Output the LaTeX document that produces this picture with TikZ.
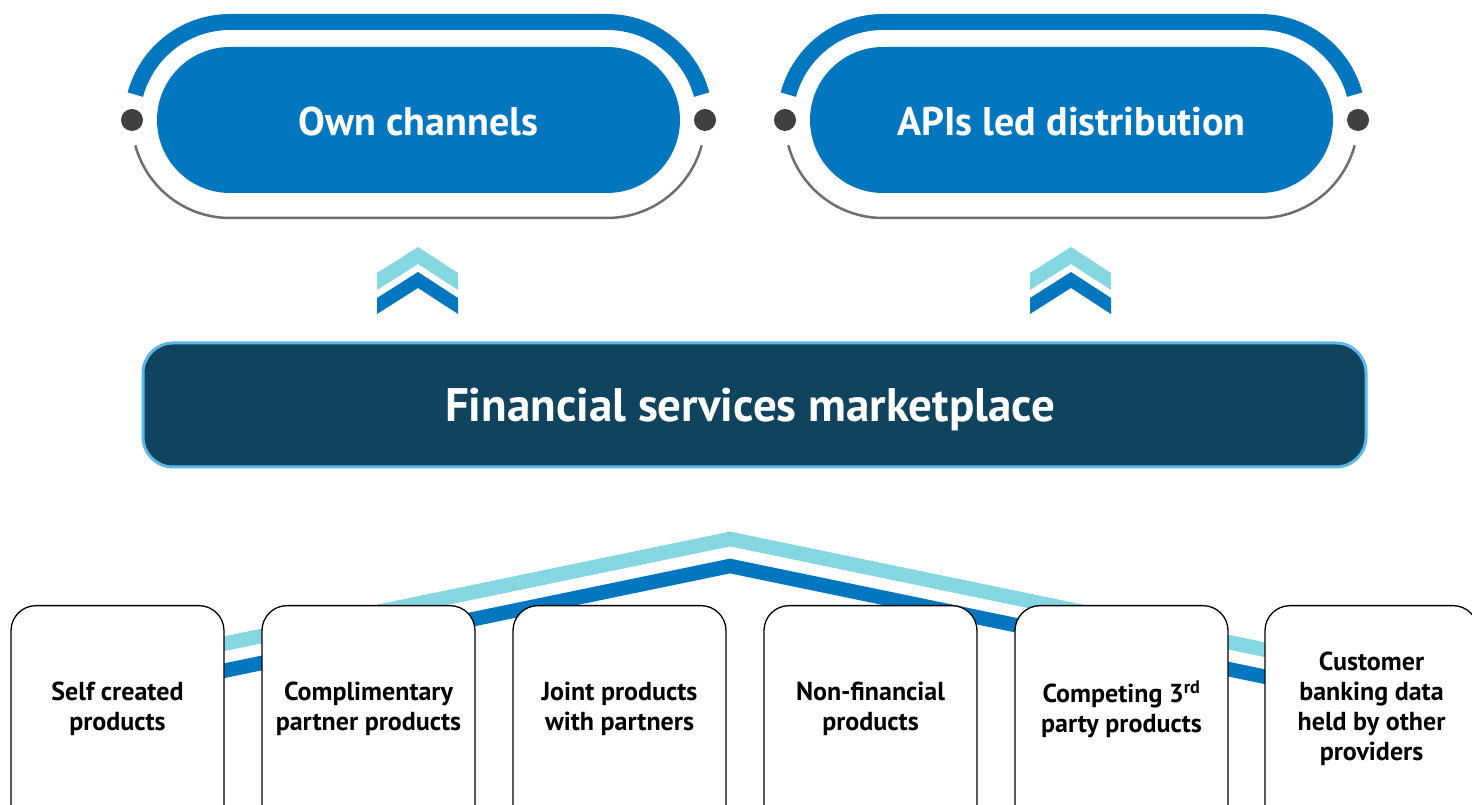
\documentclass[tikz,border=0pt]{standalone}
\usepackage{fontspec}
\setmainfont{PT Sans}
\usetikzlibrary{shapes.misc,calc}
\definecolor{pillblue}{RGB}{2,119,191}
\definecolor{cyanband}{RGB}{132,215,224}
\definecolor{navy}{RGB}{16,67,94}
\definecolor{edgeblue}{RGB}{91,184,232}
\definecolor{dotgray}{RGB}{64,64,64}
\definecolor{ringgray}{RGB}{110,110,110}
\begin{document}
\begin{tikzpicture}[x=1pt,y=1pt,
  pill/.style={rounded rectangle, fill=pillblue, minimum width=523pt, minimum height=146pt, inner sep=0pt},
  pilltext/.style={text=white, font=\bfseries\fontsize{40}{44}\selectfont},
  ringtop/.style={draw=pillblue, line width=16pt},
  ringbottom/.style={draw=ringgray, line width=2.5pt},
  ringdot/.style={circle, fill=dotgray, minimum size=22pt, inner sep=0pt},
  chevlight/.style={fill=cyanband},
  chevdark/.style={fill=pillblue},
  market/.style={rectangle, rounded corners=30pt, fill=navy, draw=edgeblue, line width=3pt,
    minimum width=1223pt, minimum height=124pt},
  markettext/.style={text=white, font=\bfseries\fontsize{47}{50}\selectfont},
  band/.style={line width=14.5pt, line join=miter, miter limit=20},
  prodbox/.style={rectangle, rounded corners=25pt, draw=black, line width=1.3pt, fill=white,
    minimum width=213pt, minimum height=225pt, anchor=north},
  prodtext/.style={align=center, font=\bfseries\fontsize{26}{30}\selectfont}
]
\useasboundingbox (0,0) rectangle (1472,805);
\clip (0,0) rectangle (1472,805);

% channel pills with their rings
\foreach \nm/\cx/\txt in {own/418.5/Own channels, api/1071.5/APIs led distribution}{
  \node[pill] (\nm) at (\cx,685) {};
  \node[pilltext] (\nm-t) at ($(\nm.center)+(0,-2)$) {\txt};
  \draw[ringtop] ($(\nm.center)+(-188.5,0)+(165:98)$) arc[start angle=165, end angle=90, radius=98]
     -- ++(377,0) arc[start angle=90, end angle=15, radius=98];
  \draw[ringbottom] ($(\nm.center)+(-188.5,0)+(195:98)$) arc[start angle=195, end angle=270, radius=98]
     -- ++(377,0) arc[start angle=270, end angle=345, radius=98];
  \node[ringdot] (\nm-l) at ($(\nm.center)+(-286.5,0)$) {};
  \node[ringdot] (\nm-r) at ($(\nm.center)+(286.5,0)$) {};
}

% upward chevrons
\foreach \cx in {418, 1071}{
  \fill[chevlight] (\cx-41,532) -- (\cx,558) -- (\cx+40,532) -- (\cx+40,515) -- (\cx,541) -- (\cx-41,515) -- cycle;
  \fill[chevdark]  (\cx-41,507) -- (\cx,533) -- (\cx+40,507) -- (\cx+40,491) -- (\cx,517) -- (\cx-41,491) -- cycle;
}

% marketplace bar
\node[market] (mkt) at (754.5,400) {};
\node[markettext] (mkt-t) at (750,396) {Financial services marketplace};

% roof bands behind the product boxes
\coordinate (lapex) at (730,266);
\coordinate (dapex) at (730,239);
\draw[band, cyanband] (150,145.9) -- (lapex) -- (1320,143.9);
\draw[band, pillblue] (150,118.9) -- (dapex) -- (1320,116.9);

% product boxes
\foreach \i/\cx/\txt in {
  1/117.5/{Self created\\products},
  2/368.5/{Complimentary\\partner products},
  3/619.5/{Joint products\\with partners},
  4/870.5/{Non-financial\\products},
  5/1121.5/{Competing 3\textsuperscript{rd}\\party products},
  6/1371.5/{Customer\\banking data\\held by other\\providers}}{
  \node[prodbox] (box\i) at (\cx,200) {};
  \node[prodtext] (lbl\i) at ($(box\i.north)+(0,-104)$) {\txt};
}
\end{tikzpicture}
\end{document}
